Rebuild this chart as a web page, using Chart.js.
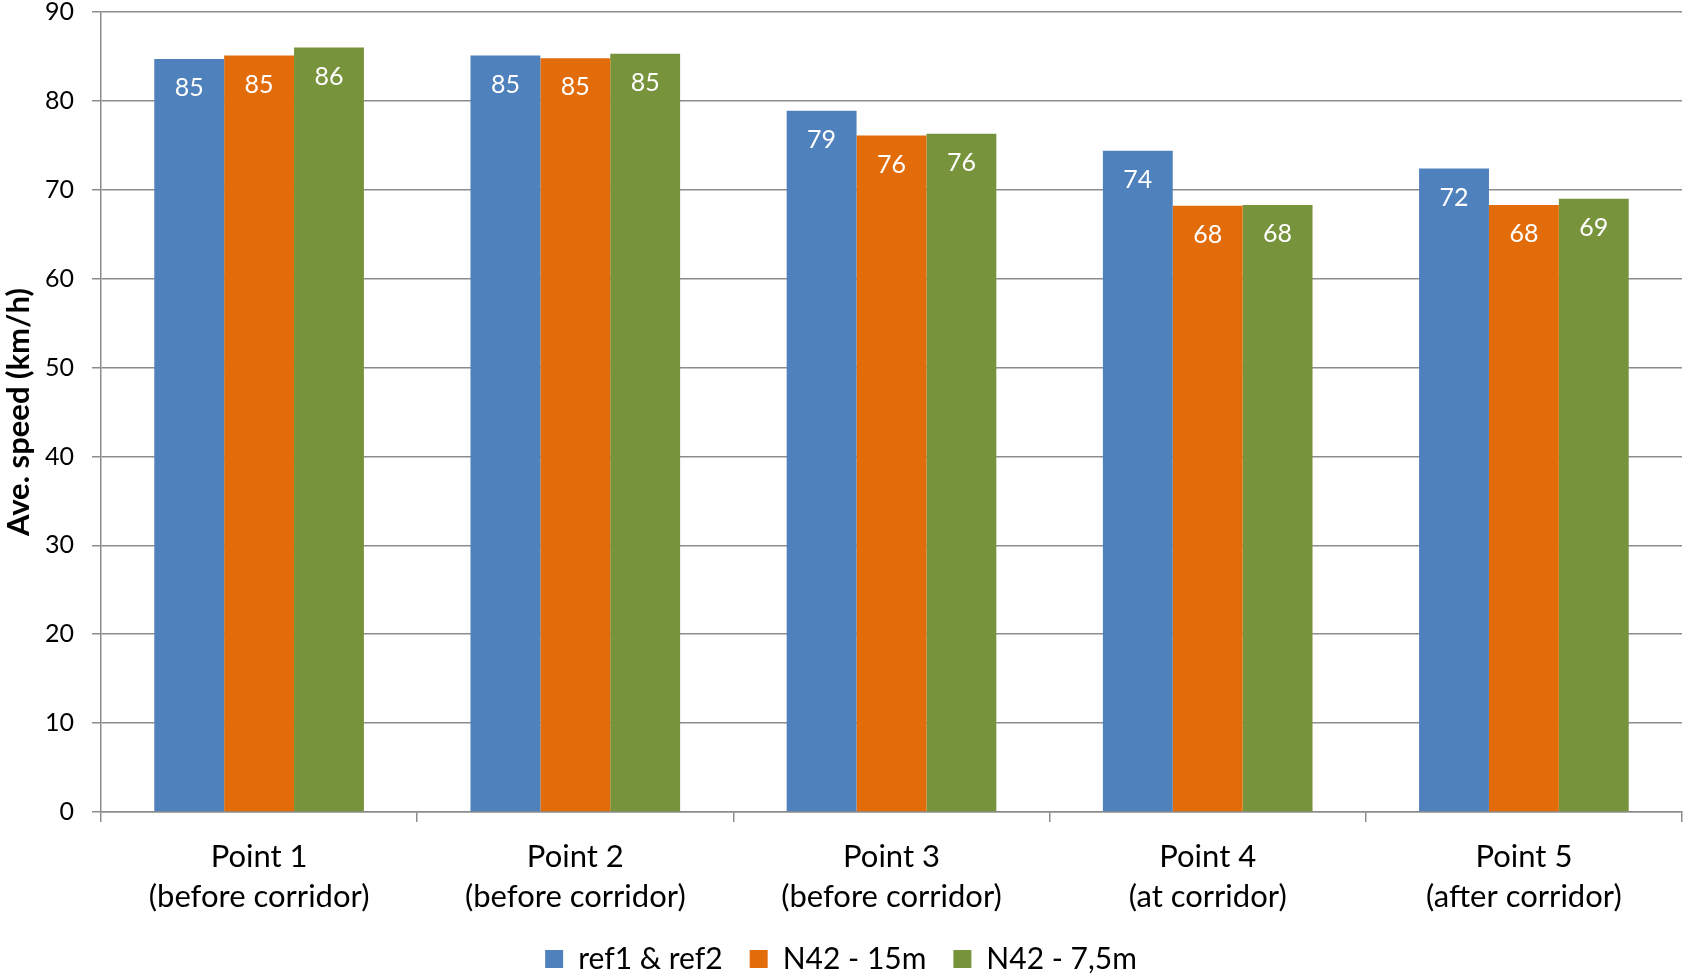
<!DOCTYPE html>
<html>
<head>
<meta charset="utf-8">
<script src="https://cdn.jsdelivr.net/npm/chart.js@4.4.1/dist/chart.umd.min.js"></script>
<style>
  html, body { margin: 0; padding: 0; background: #ffffff; }
  #c { display: block; }
</style>
</head>
<body>
<canvas id="c" width="1686" height="978"></canvas>
<script>
// Measurement points along the road
const categories = [
  ['Point 1', '(before corridor)'],
  ['Point 2', '(before corridor)'],
  ['Point 3', '(before corridor)'],
  ['Point 4', '(at corridor)'],
  ['Point 5', '(after corridor)']
];

// Average speeds (km/h) per scenario
const seriesNames = ['ref1 & ref2', 'N42 - 15m', 'N42 - 7,5m'];
const ref1ref2 = [84.7, 85.1, 78.9, 74.4, 72.4];
const n42_15m  = [85.1, 84.8, 76.1, 68.2, 68.3];
const n42_75m  = [86.0, 85.3, 76.3, 68.3, 69.0];
const seriesColors = ['#4F81BD', '#E36C0A', '#77933C'];

// Value axis
const yMin = 0, yMax = 90, yStep = 10;
const yTitle = 'Ave. speed (km/h)';

const FONT = 'Lato';
const GRID = '#8c8c8c';
const LEGEND_PAD = 27;
const BOTTOM_PAD = -6;

// White value labels just inside the top of each bar
const barValueLabels = {
  id: 'barValueLabels',
  afterDatasetsDraw(chart) {
    const ctx = chart.ctx;
    ctx.save();
    ctx.font = '25px ' + FONT;
    ctx.fillStyle = '#ffffff';
    ctx.textAlign = 'center';
    ctx.textBaseline = 'middle';
    chart.data.datasets.forEach((ds, i) => {
      const meta = chart.getDatasetMeta(i);
      meta.data.forEach((bar, j) => {
        ctx.fillText(String(Math.round(ds.data[j])), bar.x, bar.y + 29);
      });
    });
    ctx.restore();
  }
};

function build() {
  const values = [ref1ref2, n42_15m, n42_75m];
  new Chart(document.getElementById('c'), {
    type: 'bar',
    data: {
      labels: categories,
      datasets: values.map((v, i) => ({
        label: seriesNames[i],
        data: v,
        backgroundColor: seriesColors[i],
        borderWidth: 0,
        categoryPercentage: 0.663,
        barPercentage: 1.0
      }))
    },
    options: {
      responsive: false,
      animation: false,
      devicePixelRatio: 1,
      layout: { padding: { top: 12, right: 4, bottom: BOTTOM_PAD, left: 0 } },
      plugins: {
        tooltip: { enabled: false },
        legend: {
          position: 'bottom',
          labels: {
            font: { family: FONT, size: 30 },
            color: '#000000',
            boxWidth: 18,
            boxHeight: 18,
            padding: LEGEND_PAD
          }
        }
      },
      scales: {
        x: {
          offset: true,
          grid: {
            offset: true,
            drawOnChartArea: false,
            drawTicks: true,
            tickLength: 10,
            color: GRID,
            lineWidth: 1.5
          },
          border: { color: GRID, width: 1.5 },
          ticks: {
            font: { family: FONT, size: 31, lineHeight: 1.29 },
            color: '#000000',
            padding: 15,
            maxRotation: 0,
            autoSkip: false
          },
          afterFit(scale) {
            scale.height = 978 - BOTTOM_PAD - (30 + LEGEND_PAD + 10) - 812;
            scale.paddingLeft = 0;
            scale.paddingRight = 0;
          }
        },
        y: {
          min: yMin,
          max: yMax,
          ticks: {
            stepSize: yStep,
            font: { family: FONT, size: 25 },
            color: '#000000',
            padding: 18
          },
          grid: {
            color: GRID,
            lineWidth: 1.5,
            tickLength: 9
          },
          border: { color: GRID, width: 1.5 },
          title: {
            display: true,
            text: yTitle,
            font: { family: FONT, size: 31, weight: 'bold' },
            color: '#000000',
            padding: { top: 0, bottom: 0 }
          },
          afterFit(scale) {
            scale.width = 101;
            scale.paddingTop = 0;
            scale.paddingBottom = 0;
          }
        }
      }
    },
    plugins: [barValueLabels]
  });
}

Promise.all([
  document.fonts.load('25px ' + FONT),
  document.fonts.load('bold 31px ' + FONT)
]).then(build, build);
</script>
</body>
</html>
